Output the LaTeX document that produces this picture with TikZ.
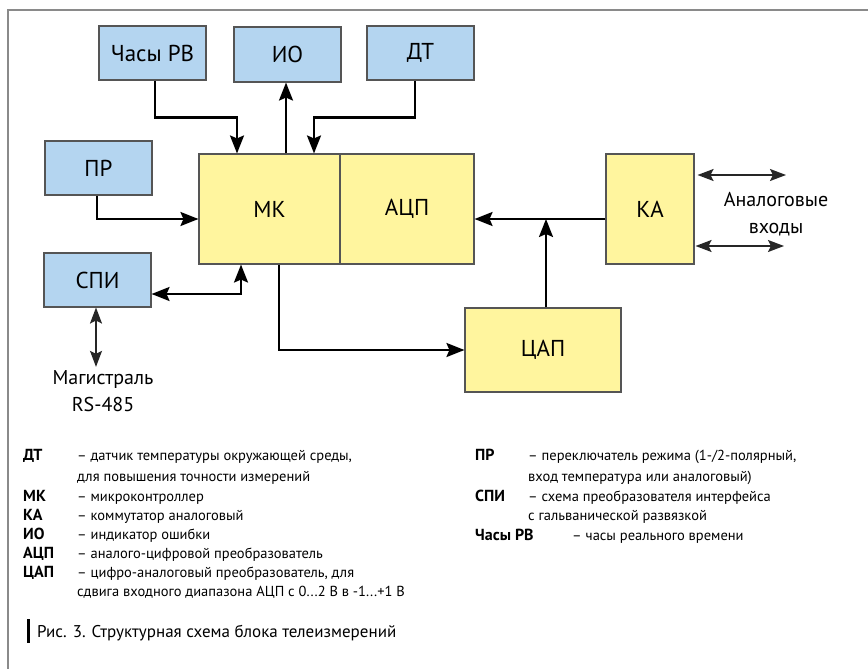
\documentclass[tikz,border=0pt]{standalone}
\usepackage{fontspec}
\setmainfont{PT Sans}
\usetikzlibrary{arrows.meta}

\definecolor{boxblue}{HTML}{B4D5F0}
\definecolor{boxyellow}{HTML}{FFF59E}
\definecolor{boxedge}{HTML}{555555}
\definecolor{framegray}{HTML}{8A8A8A}

\tikzset{
  unit/.style={draw=boxedge, line width=1.1pt, inner sep=0pt,
    font=\fontsize{23}{27}\selectfont},
  bluebox/.style={unit, fill=boxblue},
  yellowbox/.style={unit, fill=boxyellow},
  bighead/.tip={Stealth[length=18pt,width=14pt,inset=3pt]},
  smallhead/.tip={Stealth[length=16pt,width=12pt,inset=3pt]},
  conn/.style={line width=2.3pt, -bighead},
  conn2/.style={line width=2.3pt, bighead-bighead},
  bus/.style={line width=1.6pt, draw=black!85, smallhead-smallhead},
  extlabel/.style={align=center, font=\fontsize{20}{27}\selectfont},
  key/.style={anchor=base west, inner sep=0pt, font=\fontsize{16}{17}\selectfont\bfseries},
  keytext/.style={anchor=base west, inner sep=0pt, font=\fontsize{14.5}{17}\selectfont},
}

\begin{document}
\begin{tikzpicture}[x=1pt,y=-1pt]
\useasboundingbox (0,0) rectangle (868,669);
\fill[white] (0,0) rectangle (868,669);

% outer frame (top and left edges)
\draw[framegray, line width=2pt] (8,669) -- (8,10) -- (868,10);

% peripheral blocks
\node[bluebox, minimum width=107pt, minimum height=54pt] (chasy) at (152.5,53) {Часы РВ};
\node[bluebox, minimum width=107pt, minimum height=55pt] (io) at (287.5,54.5) {ИО};
\node[bluebox, minimum width=107pt, minimum height=54pt] (dt) at (420.5,53) {ДТ};
\node[bluebox, minimum width=107pt, minimum height=54pt] (pr) at (98.5,168) {ПР};
\node[bluebox, minimum width=107pt, minimum height=54pt] (spi) at (97.5,280) {СПИ};

% core blocks
\node[yellowbox, minimum width=141pt, minimum height=110pt] (mk) at (269.5,209) {МК};
\node[yellowbox, minimum width=134pt, minimum height=110pt] (acp) at (407,209) {АЦП};
\node[yellowbox, minimum width=88pt, minimum height=110pt] (ka) at (650,209) {КА};
\node[yellowbox, minimum width=156pt, minimum height=84pt] (cap) at (543,350) {ЦАП};

% connections to the microcontroller
\draw[conn] ([xshift=2.5pt]chasy.south) -- ++(0,37) -| ([xshift=-32.5pt]mk.north);
\draw[conn] ([xshift=16.5pt]mk.north) -- ([xshift=16.5pt]mk.north |- io.south);
\draw[conn] ([xshift=-5.5pt]dt.south) -- ++(0,37) -| ([xshift=44.5pt]mk.north);
\draw[conn] ([xshift=-1.5pt]pr.south) |- ([yshift=-10pt]mk.west);
\draw[conn2] ([yshift=-14pt]spi.east) -| ([xshift=-28.5pt]mk.south);
\draw[conn] ([xshift=9.5pt]mk.south) |- (cap.west);

% analog path
\coordinate (kaout) at ([yshift=-10pt]ka.west);
\coordinate (capout) at ([xshift=3pt]cap.north);
\draw[conn] (kaout) -- (acp.east |- kaout);
\draw[conn] (capout) -- (capout |- kaout);

% external lines
\node[extlabel] (bus) at (103,391) {Магистраль\\RS-485};
\draw[bus] ([xshift=-1.5pt]spi.south) -- ([xshift=-7pt]bus.north);
\coordinate (in1) at (786,175);
\coordinate (in2) at (784,246);
\draw[bus] ([xshift=3pt,yshift=34pt]ka.east) -- (in1);
\draw[bus] ([xshift=1pt,yshift=-37pt]ka.east) -- (in2);
\node[extlabel] (inputs) at (776,214) {Аналоговые\\входы};

% legend, left column
\node[key] (kdt) at (23,460) {ДТ};
\node[keytext] (tdt) at (77,460) {– датчик температуры окружающей среды,};
\node[keytext] (tdt2) at (77,481) {для повышения точности измерений};
\node[key] (kmk) at (23,501) {МК};
\node[keytext] (tmk) at (77,501) {– микроконтроллер};
\node[key] (kka) at (23,520) {КА};
\node[keytext] (tka) at (77,520) {– коммутатор аналоговый};
\node[key] (kio) at (23,539) {ИО};
\node[keytext] (tio) at (77,539) {– индикатор ошибки};
\node[key] (kacp) at (23,558) {АЦП};
\node[keytext] (tacp) at (77,558) {– аналого-цифровой преобразователь};
\node[key] (kcap) at (23,577) {ЦАП};
\node[keytext] (tcap) at (77,577) {– цифро-аналоговый преобразователь, для};
\node[keytext] (tcap2) at (77,596) {сдвига входного диапазона АЦП с 0...2 В в -1...+1 В};

% legend, right column
\node[key] (kpr) at (475,460) {ПР};
\node[keytext] (tpr) at (528,460) {– переключатель режима (1-/2-полярный,};
\node[keytext] (tpr2) at (528,481) {вход температура или аналоговый)};
\node[key] (kspi) at (475,501) {СПИ};
\node[keytext] (tspi) at (528,501) {– схема преобразователя интерфейса};
\node[keytext] (tspi2) at (528,520) {с гальванической развязкой};
\node[key] (kch) at (475,540) {Часы РВ};
\node[keytext] (tch) at (572,540) {– часы реального времени};

% caption
\fill (27,619) rectangle (30,643);
\node[anchor=base west, inner sep=0pt, font=\fontsize{17}{19}\selectfont] (cap-text) at (37,637) {Рис. 3. Структурная схема блока телеизмерений};
\end{tikzpicture}
\end{document}
